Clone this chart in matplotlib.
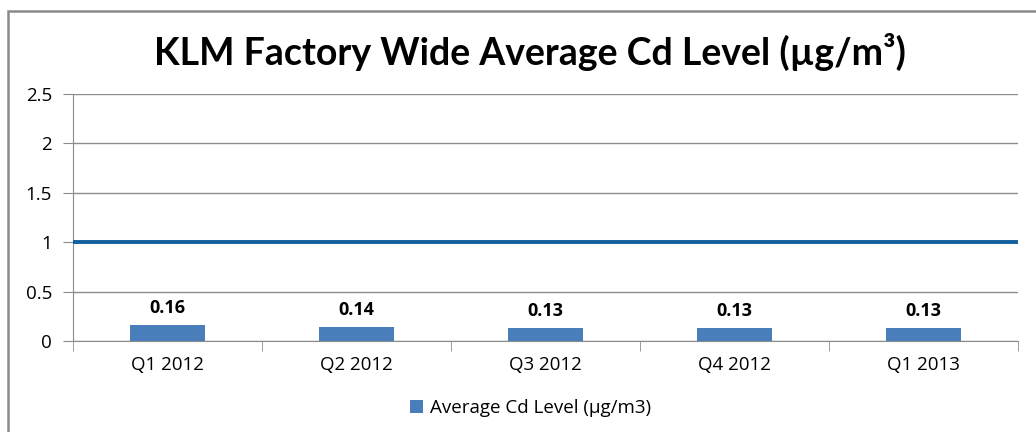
import matplotlib
matplotlib.use("Agg")
import matplotlib.pyplot as plt
from matplotlib.patches import Rectangle

# Data
quarters = ["Q1 2012", "Q2 2012", "Q3 2012", "Q4 2012", "Q1 2013"]
cd_levels = [0.16, 0.14, 0.13, 0.13, 0.13]
limit_level = 1.0
y_ticks = [0, 0.5, 1, 1.5, 2, 2.5]
y_tick_labels = ["0", "0.5", "1", "1.5", "2", "2.5"]

bar_color = "#4a7ebb"
line_color = "#135f9c"
grid_color = "#8c8c8c"

title_font = ["Lato", "DejaVu Sans"]
body_font = ["Open Sans", "DejaVu Sans"]

fig = plt.figure(figsize=(10.36, 4.32), dpi=100)
ax = fig.add_axes([73 / 1036, 1 - 341 / 432, (1018 - 73) / 1036, (341 - 94) / 432])

# outer chart border (cut off on the right and bottom in the reference)
fig.patches.append(Rectangle((8 / 1036, -0.1), 1.2, 1 - 11 / 432 + 0.1,
                             transform=fig.transFigure, fill=False,
                             edgecolor="#8a8a8a", linewidth=1.8))

x = list(range(len(quarters)))
bars = ax.bar(x, cd_levels, width=0.4, color=bar_color, zorder=3,
              label="Average Cd Level (\u00b5g/m3)")
ax.axhline(limit_level, color=line_color, linewidth=2.8, zorder=4)

for bar, val in zip(bars, cd_levels):
    ax.text(bar.get_x() + bar.get_width() / 2.0, val + 0.08, f"{val:.2f}",
            ha="center", va="bottom", fontsize=13, fontweight="bold",
            family=body_font)

ax.set_xlim(-0.5, len(quarters) - 0.5)
ax.set_ylim(0, 2.5)
ax.set_yticks(y_ticks)
ax.set_yticklabels(y_tick_labels, family=body_font, fontsize=13.5)
ax.yaxis.grid(True, color=grid_color, linewidth=1, zorder=0)
ax.set_axisbelow(True)

ax.set_xticks(x)
ax.set_xticklabels(quarters, family=body_font, fontsize=13.5)
ax.tick_params(axis="x", length=0, pad=11)
ax.tick_params(axis="y", length=7, color=grid_color, pad=8)
# category separators below the axis
ax.set_xticks([i - 0.5 for i in range(len(quarters) + 1)], minor=True)
ax.tick_params(axis="x", which="minor", length=7, color=grid_color)

for side in ["top", "right"]:
    ax.spines[side].set_visible(False)
ax.spines["left"].set_color(grid_color)
ax.spines["bottom"].set_color(grid_color)

fig.text(0.512, 1 - 52 / 432, "KLM Factory Wide Average Cd Level (\u00b5g/m\u00b3)",
         ha="center", va="center", fontsize=27, fontweight="bold",
         family=title_font)

fig.legend(handles=[bars], labels=["Average Cd Level (\u00b5g/m3)"],
           loc="center", bbox_to_anchor=(0.512, 1 - 408 / 432),
           frameon=False, handlelength=0.7, handleheight=0.7,
           handletextpad=0.4, prop={"family": body_font, "size": 13.5})

fig.savefig("out.png", dpi=100)
